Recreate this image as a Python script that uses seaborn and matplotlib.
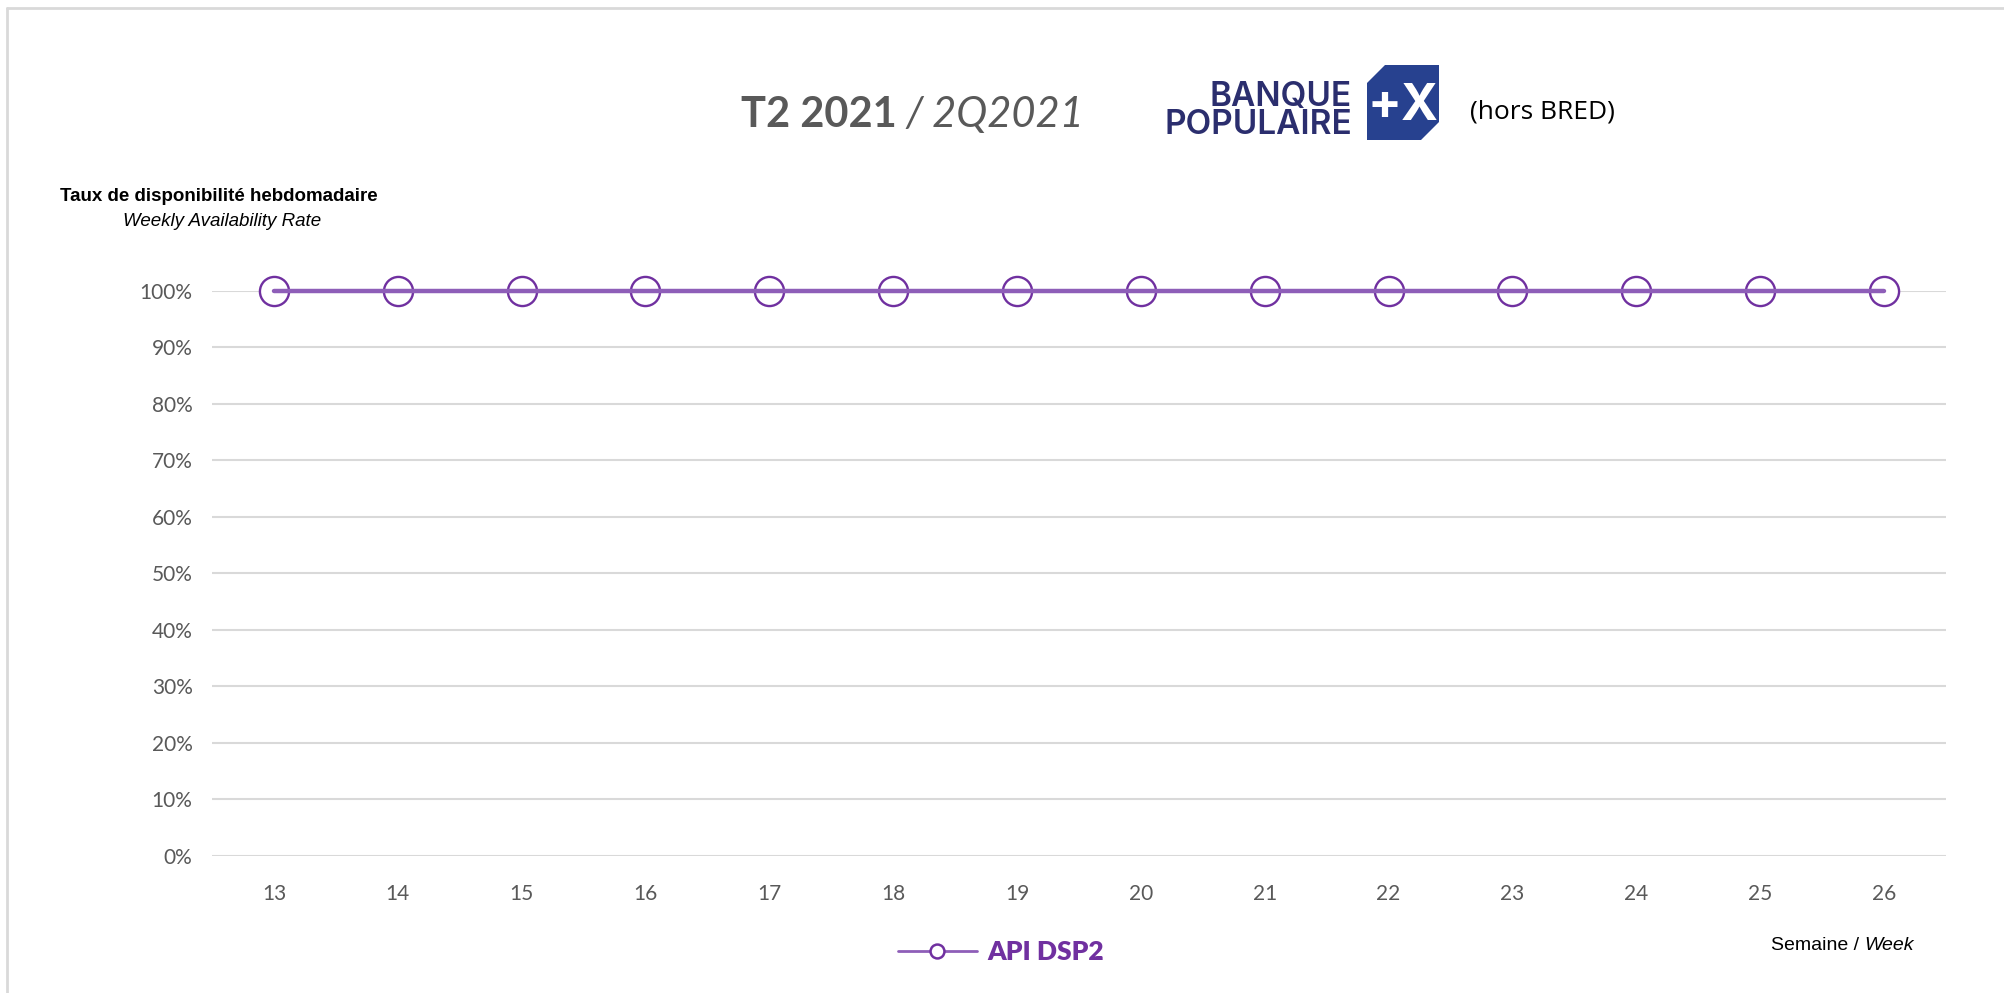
import pandas as pd
import matplotlib.pyplot as plt
import seaborn as sns
from matplotlib.lines import Line2D
from matplotlib.patches import Polygon

# data
weeks = [13, 14, 15, 16, 17, 18, 19, 20, 21, 22, 23, 24, 25, 26]
availability = [1.0] * 14
series_name = "API DSP2"
y_ticks = [0, 0.1, 0.2, 0.3, 0.4, 0.5, 0.6, 0.7, 0.8, 0.9, 1.0]

df = pd.DataFrame({"week": weeks, "rate": availability})

sns.set_theme(style="white")
plt.rcParams["font.family"] = ["Lato", "DejaVu Sans"]

fig = plt.figure(figsize=(20.04, 9.93), dpi=100)
ax = fig.add_axes([0.1058, 0.1380, 0.8652, 0.5690])

# markers under the line
sns.scatterplot(data=df, x="week", y="rate", ax=ax, s=440, facecolor="white",
                edgecolor="#7030A0", linewidth=1.7, zorder=3, clip_on=False)
sns.lineplot(data=df, x="week", y="rate", ax=ax, color="#8E5EB8", linewidth=3.2,
             zorder=4, clip_on=False)

ax.set_xlim(12.5, 26.5)
ax.set_ylim(0, 1)
ax.set_xticks(weeks)
ax.set_xticklabels([str(w) for w in weeks])
ax.set_yticks(y_ticks)
ax.set_yticklabels([f"{int(round(v * 100))}%" for v in y_ticks])
ax.grid(axis="y", color="#D9D9D9", linewidth=1.5, zorder=0)
ax.set_axisbelow(True)
for s in ax.spines.values():
    s.set_visible(False)
ax.tick_params(axis="both", length=0, labelsize=15, colors="#595959")
ax.tick_params(axis="y", pad=14)
ax.tick_params(axis="x", pad=20)
ax.set_xlabel("")
ax.set_ylabel("")

# frame lines (top and left)
fig.add_artist(Line2D([7 / 2004, 1], [1 - 8 / 993, 1 - 8 / 993], color="#D9D9D9", lw=2))
fig.add_artist(Line2D([7 / 2004, 7 / 2004], [0, 1 - 8 / 993], color="#D9D9D9", lw=2))

# title
fig.text(741 / 2004, 1 - 115 / 993, "T2 2021", fontsize=30, fontweight="bold",
         color="#595959", va="center", ha="left")
fig.text(905 / 2004, 1 - 115 / 993, "/ 2Q2021", fontsize=30, fontstyle="italic",
         color="#595959", va="center", ha="left")

# logo
logo_font = ["Inter", "DejaVu Sans"]
fig.text(1352 / 2004, 1 - 97 / 993, "BANQUE", fontsize=24, fontweight="semibold",
         color="#2B2E6E", ha="right", va="center", family=logo_font)
fig.text(1352 / 2004, 1 - 125 / 993, "POPULAIRE", fontsize=24, fontweight="semibold",
         color="#2B2E6E", ha="right", va="center", family=logo_font)
box = [(1367, 83), (1385, 65), (1439, 65), (1439, 122), (1421, 140), (1367, 140)]
fig.add_artist(Polygon([(x / 2004, 1 - y / 993) for x, y in box], closed=True,
                       transform=fig.transFigure, facecolor="#27418F", edgecolor="none"))
fig.text(1403 / 2004, 1 - 106 / 993, "+X", fontsize=36, fontweight="bold", color="white",
         ha="center", va="center", family=logo_font)
fig.text(1470 / 2004, 1 - 112 / 993, "(hors BRED)", fontsize=19, color="black",
         ha="left", va="center", family=["Open Sans", "DejaVu Sans"])

# axis titles
arial = ["Liberation Sans", "DejaVu Sans"]
fig.text(60 / 2004, 1 - 196 / 993, "Taux de disponibilité hebdomadaire", fontsize=13.5,
         fontweight="bold", color="black", ha="left", va="center", family=arial)
fig.text(123 / 2004, 1 - 222 / 993, "Weekly Availability Rate", fontsize=13.5,
         fontstyle="italic", color="black", ha="left", va="center", family=arial)
sem = fig.text(1771 / 2004, 1 - 945 / 993, "Semaine / ", fontsize=14, color="black",
               ha="left", va="center", family=arial)
fig.canvas.draw()
bb = sem.get_window_extent()
fig.text(bb.x1 / fig.bbox.width, 1 - 945 / 993, "Week", fontsize=14, fontstyle="italic",
         color="black", ha="left", va="center", family=arial)

# legend
handle = Line2D([], [], color="#8E5EB8", linewidth=2, marker="o", markersize=10,
                markerfacecolor="white", markeredgecolor="#7030A0", markeredgewidth=1.8)
leg = fig.legend([handle], [series_name], loc="center", bbox_to_anchor=(1001 / 2004, 1 - 952 / 993),
                 frameon=False, handlelength=3.0, handletextpad=0.4,
                 prop={"size": 19, "weight": "heavy"})
for t in leg.get_texts():
    t.set_color("#7030A0")

fig.savefig("out.png", dpi=100)
